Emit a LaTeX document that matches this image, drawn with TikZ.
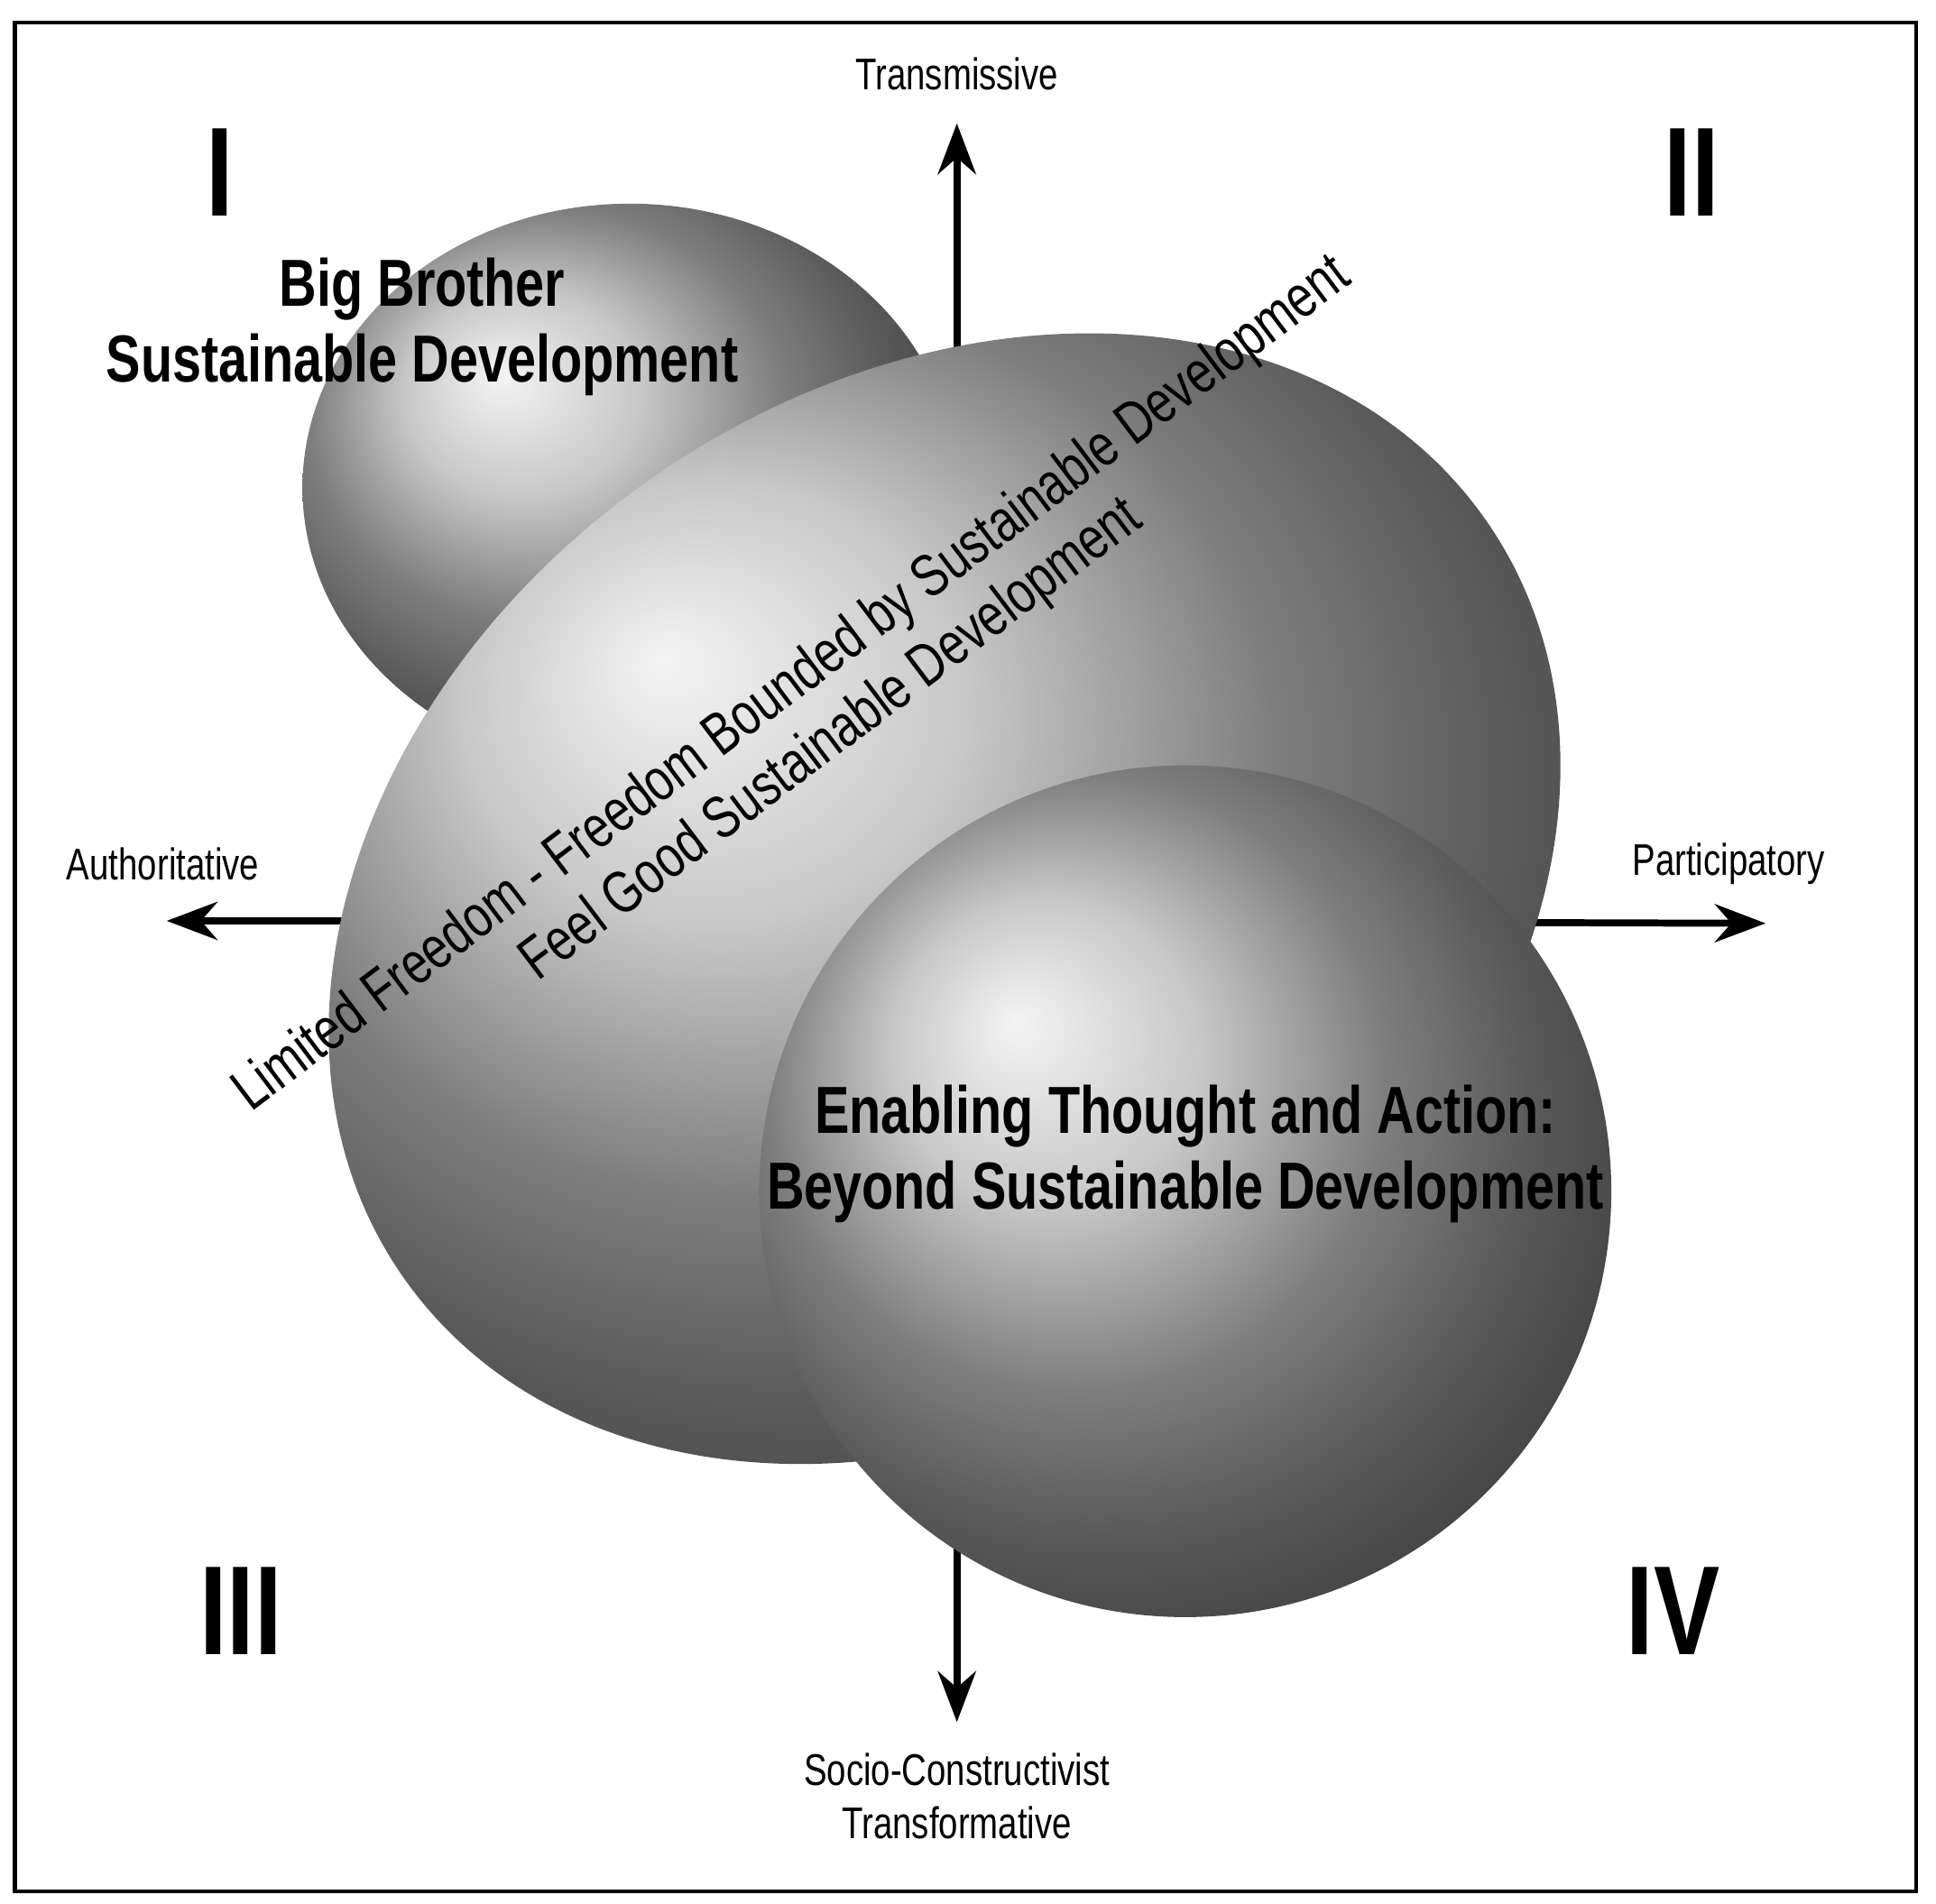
\documentclass[tikz,border=0pt]{standalone}
\usepackage{fontspec}
\setmainfont{Liberation Sans}[FakeStretch=0.78]
\usetikzlibrary{arrows.meta,shadings}
\begin{document}
\begin{tikzpicture}[x=0.013686cm,y=-0.013686cm,
  ax/.style={line width=2.2pt,-{Stealth[length=16pt,width=12pt]}},
  lab/.style={font=\fontsize{14}{16}\selectfont},
  roman/.style={font=\bfseries\fontsize{40}{40}\selectfont},
  big/.style={font=\bfseries\fontsize{21}{24}\selectfont,align=center},
  diag/.style={font=\fontsize{18.8}{20}\selectfont,rotate=37},
  blob/.style={shading=ball,ball color=gray!58}]
\useasboundingbox (0,0) rectangle (1568,1542);
\draw[line width=1.2pt] (12,18) rectangle (1552,1532);
\coordinate (c) at (775,746);
\coordinate (t) at (775,100);
\coordinate (b) at (775,1395);
\coordinate (l) at (135,746);
\coordinate (r) at (1430,748);
\draw[ax] (c) -- (t);
\draw[ax] (c) -- (b);
\draw[ax] (c) -- (l);
\draw[ax] (c) -- (r);
\node[lab] (tt) at (775,60) {Transmissive};
\node[lab] (ta) at (132,700) {Authoritative};
\node[lab] (tp) at (1400,700) {Participatory};
\node[lab,align=center] (ts) at (775,1455) {Socio-Constructivist\\[1pt]Transformative};
\node[roman] (r1) at (178,140) {I};
\node[roman] (r2) at (1370,140) {II};
\node[roman] (r3) at (195,1305) {III};
\node[roman] (r4) at (1355,1305) {IV};
\shade[blob] (510,395) ellipse [x radius=265,y radius=230];
\shade[blob] (765,728) ellipse [x radius=535,y radius=415,rotate=35];
\shade[blob] (960,965) circle [radius=345];
\node[big] (bb) at (342,265) {Big Brother\\Sustainable Development};
\node[diag] (d1) at (642,555) {Limited Freedom - Freedom Bounded by Sustainable Development};
\node[diag] (d2) at (674,600) {Feel Good Sustainable Development};
\node[big] (en) at (960,935) {Enabling Thought and Action:\\Beyond Sustainable Development};
\end{tikzpicture}
\end{document}
